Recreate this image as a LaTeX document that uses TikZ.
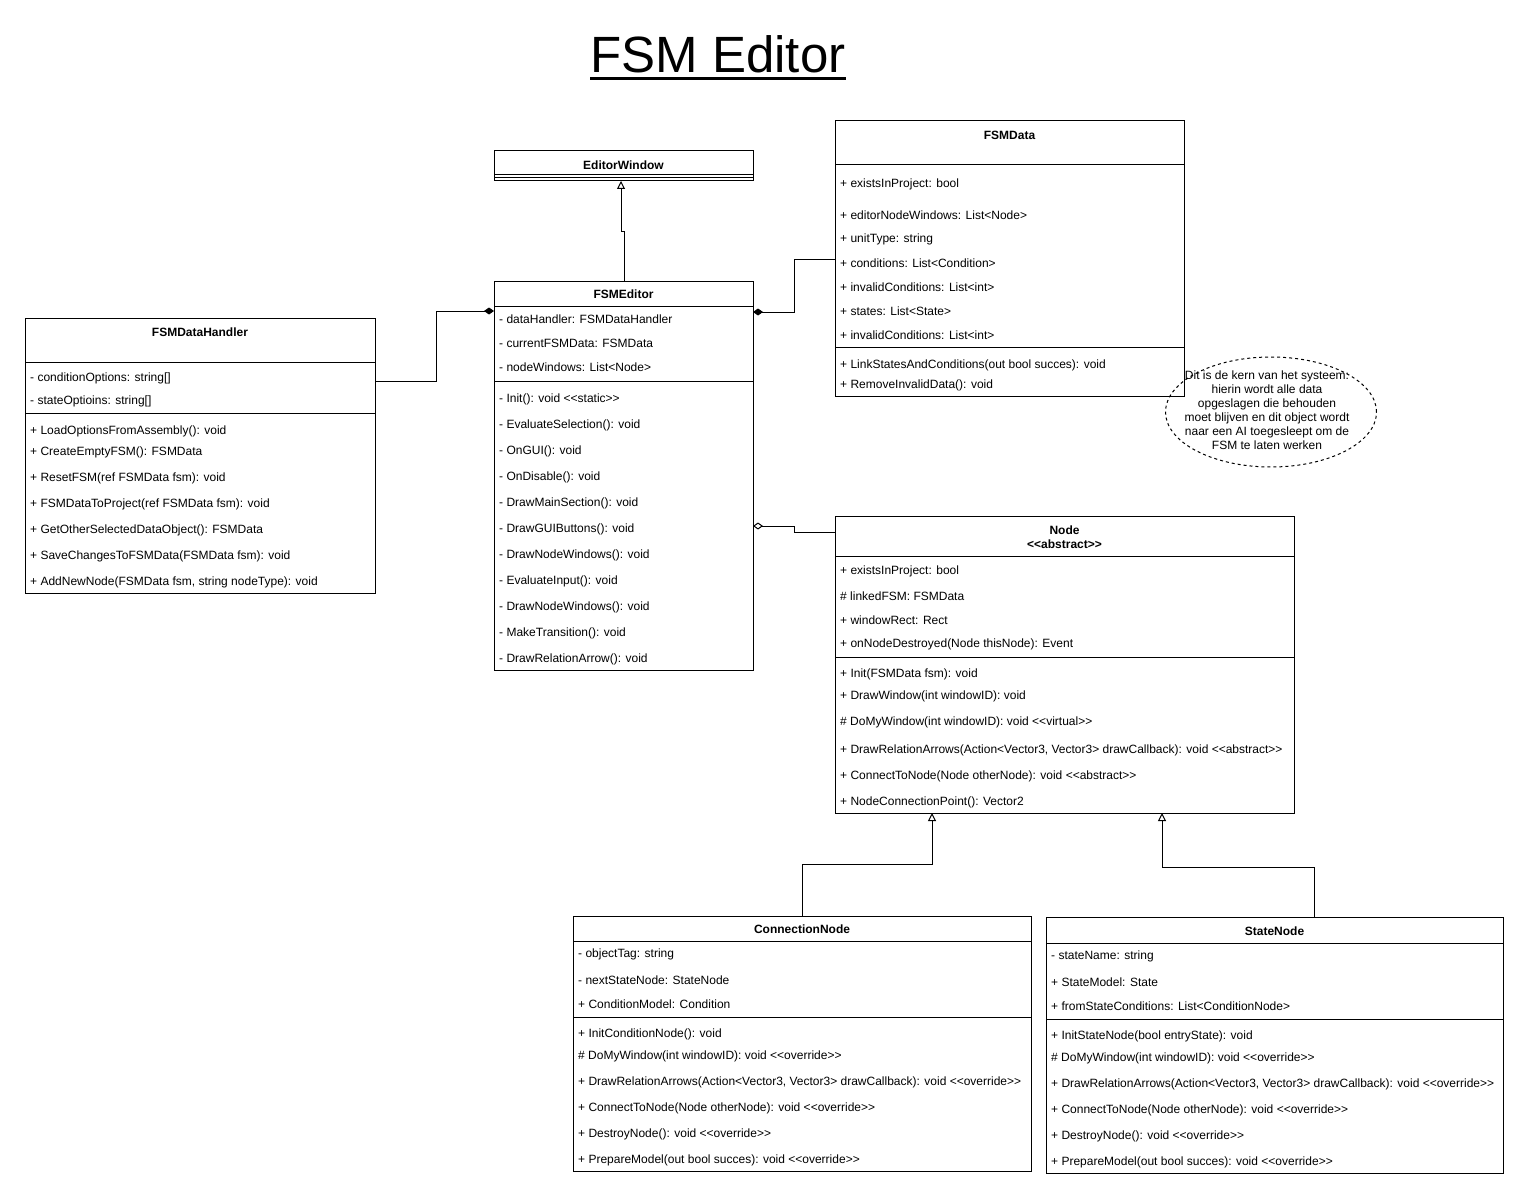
\documentclass[tikz,border=0pt]{standalone}
\usepackage{fontspec}
\newfontfamily\umlfont{Liberation Sans}
\usetikzlibrary{arrows.meta,shapes.geometric}
\begin{document}
\begin{tikzpicture}[x=1pt,y=-1pt,
  classbox/.style={draw, line width=1pt, inner sep=0pt, outer sep=0pt, anchor=north west, fill=white},
  hdr/.style={font=\umlfont\bfseries\fontsize{12}{14}\selectfont, inner sep=0pt, anchor=center, yshift=-1pt},
  attr/.style={font=\umlfont\fontsize{12}{14}\selectfont, inner sep=0pt, anchor=west, yshift=-1pt},
  sepline/.style={line width=1pt},
  conn/.style={line width=1pt},
  inh/.style={conn, -{Triangle[open, length=8pt, width=8pt]}},
  comp/.style={conn, -{Diamond[length=10pt, width=7pt]}},
  aggr/.style={conn, -{Diamond[open, length=10pt, width=7pt]}},
  notestyle/.style={ellipse, draw, line width=1pt, dash pattern=on 3pt off 3pt, inner sep=0pt},
]
\fill[white] (0,0) rectangle (1530,1201);
\useasboundingbox (0,0) rectangle (1530,1201);

% Title
\node[font=\umlfont\fontsize{51}{60}\selectfont, inner sep=0pt, anchor=base] (title) at (718,73) {FSM Editor};
\draw[line width=3.5pt] ([yshift=-5.5pt]title.base west) -- ([yshift=-5.5pt]title.base east);

% EditorWindow
\node[classbox, minimum width=259pt, minimum height=30pt] (editorwindow) at (494,151) {};
\node[hdr] (editorwindow-h) at (623.5,164) {EditorWindow};
\draw[sepline] (494,175) -- (753,175);
\draw[sepline] (494,178) -- (753,178);

% FSMEditor
\node[classbox, minimum width=259pt, minimum height=389pt] (fsmeditor) at (494,281) {};
\node[hdr] (fsmeditor-h) at (623.5,293) {FSMEditor};
\draw[sepline] (494,306) -- (753,306);
\draw[sepline] (494,381) -- (753,381);
\foreach \ty/\tx [count=\i] in {
  318/{- dataHandler: FSMDataHandler},
  342/{- currentFSMData: FSMData},
  366/{- nodeWindows: List<Node>},
  398/{- Init(): void <<static>>},
  424/{- EvaluateSelection(): void},
  450/{- OnGUI(): void},
  476/{- OnDisable(): void},
  502/{- DrawMainSection(): void},
  528/{- DrawGUIButtons(): void},
  554/{- DrawNodeWindows(): void},
  580/{- EvaluateInput(): void},
  606/{- DrawNodeWindows(): void},
  632/{- MakeTransition(): void},
  658/{- DrawRelationArrow(): void}}
  \node[attr] (fsmeditor-\i) at (499,\ty) {\tx};

% FSMDataHandler
\node[classbox, minimum width=350pt, minimum height=275pt] (fsmdatahandler) at (25,318) {};
\node[hdr] (fsmdatahandler-h) at (200,331) {FSMDataHandler};
\draw[sepline] (25,362) -- (375,362);
\draw[sepline] (25,413) -- (375,413);
\foreach \ty/\tx [count=\i] in {
  377/{- conditionOptions: string[]},
  400/{- stateOptioins: string[]},
  430/{+ LoadOptionsFromAssembly(): void},
  451/{+ CreateEmptyFSM(): FSMData},
  477/{+ ResetFSM(ref FSMData fsm): void},
  503/{+ FSMDataToProject(ref FSMData fsm): void},
  529/{+ GetOtherSelectedDataObject(): FSMData},
  555/{+ SaveChangesToFSMData(FSMData fsm): void},
  581/{+ AddNewNode(FSMData fsm, string nodeType): void}}
  \node[attr] (fsmdatahandler-\i) at (30,\ty) {\tx};

% FSMData
\node[classbox, minimum width=349pt, minimum height=275pt] (fsmdata) at (835,121) {};
\node[hdr] (fsmdata-h) at (1009.5,134) {FSMData};
\draw[sepline] (835,165) -- (1184,165);
\draw[sepline] (835,347) -- (1184,347);
\foreach \ty/\tx [count=\i] in {
  183/{+ existsInProject: bool},
  214/{+ editorNodeWindows: List<Node>},
  238/{+ unitType: string},
  262/{+ conditions: List<Condition>},
  286/{+ invalidConditions: List<int>},
  310/{+ states: List<State>},
  334/{+ invalidConditions: List<int>},
  364/{+ LinkStatesAndConditions(out bool succes): void},
  384/{+ RemoveInvalidData(): void}}
  \node[attr] (fsmdata-\i) at (840,\ty) {\tx};

% Note
\node[notestyle, minimum width=211pt, minimum height=110pt] (note) at (1271,412) {};
\node[font=\umlfont\fontsize{12}{14}\selectfont, align=center, inner sep=0pt] (notetext) at (1267,410)
  {Dit is de kern van het systeem:\\hierin wordt alle data\\opgeslagen die behouden\\moet blijven en dit object wordt\\naar een AI toegesleept om de\\FSM te laten werken};

% Node
\node[classbox, minimum width=459pt, minimum height=297pt] (node) at (835,516) {};
\node[hdr] (node-h) at (1064.5,529) {Node};
\node[hdr] (node-h2) at (1064.5,543) {<<abstract>>};
\draw[sepline] (835,556) -- (1294,556);
\draw[sepline] (835,657) -- (1294,657);
\foreach \ty/\tx [count=\i] in {
  570/{+ existsInProject: bool},
  595/{\# linkedFSM: FSMData},
  619/{+ windowRect: Rect},
  643/{+ onNodeDestroyed(Node thisNode): Event},
  673/{+ Init(FSMData fsm): void},
  695/{+ DrawWindow(int windowID): void},
  721/{\# DoMyWindow(int windowID): void <<virtual>>},
  749/{+ DrawRelationArrows(Action<Vector3, Vector3> drawCallback): void <<abstract>>},
  775/{+ ConnectToNode(Node otherNode): void <<abstract>>},
  801/{+ NodeConnectionPoint(): Vector2}}
  \node[attr] (node-\i) at (840,\ty) {\tx};

% ConnectionNode
\node[classbox, minimum width=458pt, minimum height=255pt] (connectionnode) at (573,916) {};
\node[hdr] (connectionnode-h) at (802,928) {ConnectionNode};
\draw[sepline] (573,941) -- (1031,941);
\draw[sepline] (573,1017) -- (1031,1017);
\foreach \ty/\tx [count=\i] in {
  953/{- objectTag: string},
  979/{- nextStateNode: StateNode},
  1003/{+ ConditionModel: Condition},
  1033/{+ InitConditionNode(): void},
  1055/{\# DoMyWindow(int windowID): void <<override>>},
  1081/{+ DrawRelationArrows(Action<Vector3, Vector3> drawCallback): void <<override>>},
  1107/{+ ConnectToNode(Node otherNode): void <<override>>},
  1133/{+ DestroyNode(): void <<override>>},
  1159/{+ PrepareModel(out bool succes): void <<override>>}}
  \node[attr] (connectionnode-\i) at (578,\ty) {\tx};

% StateNode
\node[classbox, minimum width=457pt, minimum height=256pt] (statenode) at (1046,917) {};
\node[hdr] (statenode-h) at (1274.5,930.5) {StateNode};
\draw[sepline] (1046,943) -- (1503,943);
\draw[sepline] (1046,1019) -- (1503,1019);
\foreach \ty/\tx [count=\i] in {
  955/{- stateName: string},
  981/{+ StateModel: State},
  1005/{+ fromStateConditions: List<ConditionNode>},
  1035/{+ InitStateNode(bool entryState): void},
  1057/{\# DoMyWindow(int windowID): void <<override>>},
  1083/{+ DrawRelationArrows(Action<Vector3, Vector3> drawCallback): void <<override>>},
  1109/{+ ConnectToNode(Node otherNode): void <<override>>},
  1135/{+ DestroyNode(): void <<override>>},
  1161/{+ PrepareModel(out bool succes): void <<override>>}}
  \node[attr] (statenode-\i) at (1051,\ty) {\tx};

% Connectors
\coordinate (c1a) at (624,231); \coordinate (c1b) at (621,231);
\draw[inh] (fsmeditor.north -| c1a) -- (c1a) -- (c1b) -- (c1b |- editorwindow.south);

\coordinate (c2a) at (436,381); \coordinate (c2b) at (436,311);
\draw[comp] (fsmdatahandler.east |- c2a) -- (c2a) -- (c2b) -- (fsmeditor.west |- c2b);

\coordinate (c3a) at (794,259); \coordinate (c3b) at (794,312);
\draw[comp] (fsmdata.west |- c3a) -- (c3a) -- (c3b) -- (fsmeditor.east |- c3b);

\coordinate (c4a) at (794,532); \coordinate (c4b) at (794,526);
\draw[aggr] (node.west |- c4a) -- (c4a) -- (c4b) -- (fsmeditor.east |- c4b);

\coordinate (c5a) at (802,864); \coordinate (c5b) at (932,864);
\draw[inh] (connectionnode.north -| c5a) -- (c5a) -- (c5b) -- (c5b |- node.south);

\coordinate (c6a) at (1314,867); \coordinate (c6b) at (1162,867);
\draw[inh] (statenode.north -| c6a) -- (c6a) -- (c6b) -- (c6b |- node.south);
\end{tikzpicture}
\end{document}
